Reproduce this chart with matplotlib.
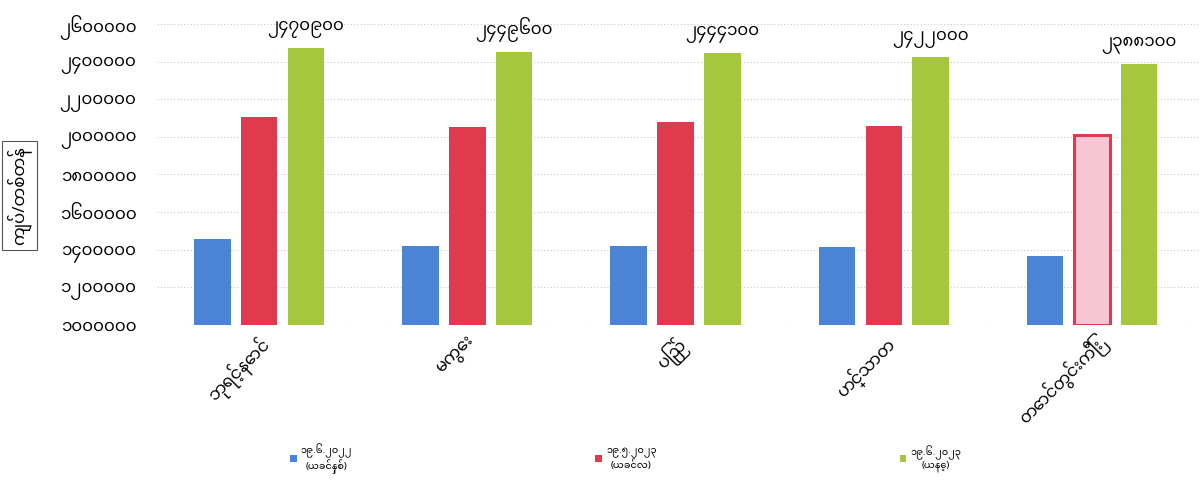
import matplotlib
matplotlib.use("Agg")
import matplotlib.pyplot as plt
import numpy as np

plt.rcParams['font.family'] = ['Noto Sans Myanmar', 'Padauk', 'DejaVu Sans']

categories = ["ဘုရင့်နောင်", "မကွေး", "ပြည်", "ဟင်္သာတ", "တောင်တွင်းကြီး"]
prev_year = [1458000, 1418000, 1418000, 1412000, 1368000]
prev_month = [2107000, 2054000, 2080000, 2059000, 2010000]
today = [2470900, 2449600, 2444100, 2422000, 2388100]
series_labels = ["၁၉.၆.၂၀၂၂\n(ယခင်နှစ်)", "၁၉.၅.၂၀၂၃\n(ယခင်လ)", "၁၉.၆.၂၀၂၃\n(ယနေ့)"]
yticks = [1000000, 1200000, 1400000, 1600000, 1800000, 2000000, 2200000, 2400000, 2600000]
ylabel = "ကျပ်/တစ်တန်"

MY_DIGITS = str.maketrans("0123456789", "၀၁၂၃၄၅၆၇၈၉")
def my_num(v):
    return str(int(v)).translate(MY_DIGITS)

colors = ["#4b84d6", "#e03a4e", "#a6c63e"]

fig = plt.figure(figsize=(12.01, 4.97), dpi=100)
ax = fig.add_axes([0.131, 0.346, 0.868, 0.606])

x = np.arange(len(categories))
w = 0.175
pitch = 0.225
bars = []
for i, (vals, c, lab) in enumerate(zip([prev_year, prev_month, today], colors, series_labels)):
    b = ax.bar(x + (i - 1) * pitch, np.array(vals) - yticks[0], width=w, bottom=yticks[0],
               color=c, label=lab, zorder=2)
    bars.append(b)

# faded last red bar (as in the scan)
last = bars[1][-1]
last.set_facecolor("#f6c6d4")
last.set_edgecolor("#e03a4e")
last.set_linewidth(2.2)

for rect, v in zip(bars[2], today):
    ax.annotate(my_num(v), (rect.get_x() + rect.get_width() / 2, v), xytext=(0, 7),
                textcoords="offset points", ha="center", va="bottom", fontsize=12)

ax.set_ylim(yticks[0], yticks[-1])
ax.set_xlim(-0.489, 4.518)
ax.set_yticks(yticks)
ax.set_yticklabels([my_num(t) for t in yticks], fontsize=12)
ax.tick_params(axis="y", length=0, pad=15)
ax.set_xticks(x)
ax.set_xticklabels(categories, rotation=45, ha="right", va="top", rotation_mode="anchor", fontsize=12)
ax.tick_params(axis="x", length=0, pad=6)
ax.grid(axis="y", linestyle=(0, (1, 2)), color="#c8c8c8", linewidth=0.8, zorder=0)
for s in ax.spines.values():
    s.set_visible(False)

fig.text(0.016, 0.607, ylabel, rotation=90, ha="center", va="center", fontsize=12,
         bbox=dict(boxstyle="square,pad=0.3", facecolor="white", edgecolor="#555555", linewidth=0.8))

leg = fig.legend(handles=bars, labels=series_labels, loc="center", bbox_to_anchor=(0.521, 0.077),
                 ncol=3, frameon=False, fontsize=7, handlelength=0.7, handleheight=0.7,
                 handletextpad=0.4, columnspacing=25)
for t in leg.get_texts():
    t.set_multialignment("center")
for h in leg.legend_handles:
    h.set_linewidth(0)

fig.savefig("out.png", dpi=100)
